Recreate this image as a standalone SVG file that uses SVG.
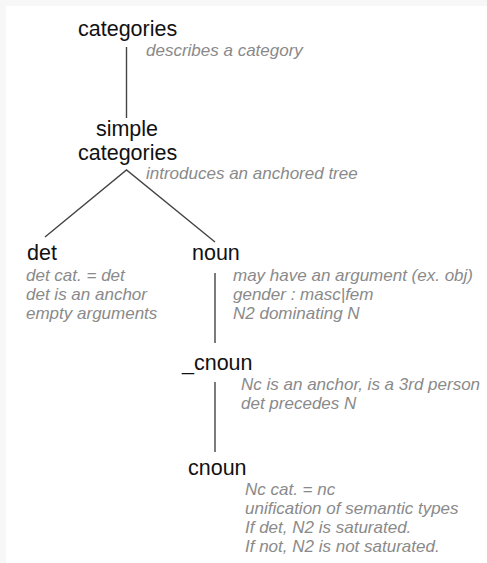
<svg xmlns="http://www.w3.org/2000/svg" width="487" height="563" viewBox="0 0 487 563">
  <style>
    .name { font-family: "Liberation Sans", Arial, sans-serif; font-size: 21.5px; fill: #111; }
    .note { font-family: "Liberation Sans", Arial, sans-serif; font-size: 17px; font-style: italic; fill: #8a8a8a; }
    .edge { stroke: #444; stroke-width: 1.4; fill: none; }
  </style>
  <rect x="0" y="0" width="487" height="563" fill="#f7f7f7"/>
  <rect x="6" y="6" width="481" height="557" fill="#ffffff"/>

  <g id="connectors">
    <line class="edge" x1="126.5" y1="47" x2="126.5" y2="118"/>
    <polyline class="edge" points="45,237 126.5,170 215,242"/>
    <line class="edge" x1="215" y1="273" x2="215" y2="343"/>
    <line class="edge" x1="215" y1="382" x2="215" y2="452"/>
  </g>

  <g id="categories">
    <text class="name" x="78" y="36">categories</text>
    <text class="note" x="146" y="56">describes a category</text>
  </g>

  <g id="simple-categories">
    <text class="name" x="127" y="136" text-anchor="middle">simple</text>
    <text class="name" x="78" y="160">categories</text>
    <text class="note" x="146" y="179">introduces an anchored tree</text>
  </g>

  <g id="det">
    <text class="name" x="27" y="260">det</text>
    <text class="note" x="26" y="281">det cat. = det</text>
    <text class="note" x="26" y="300">det is an anchor</text>
    <text class="note" x="26" y="319">empty arguments</text>
  </g>

  <g id="noun">
    <text class="name" x="192" y="260">noun</text>
    <text class="note" x="233" y="281">may have an argument (ex. obj)</text>
    <text class="note" x="233" y="300">gender : masc|fem</text>
    <text class="note" x="233" y="319">N2 dominating N</text>
  </g>

  <g id="_cnoun">
    <text class="name" x="182" y="370">_cnoun</text>
    <text class="note" x="241" y="390">Nc is an anchor, is a 3rd person</text>
    <text class="note" x="241" y="409">det precedes N</text>
  </g>

  <g id="cnoun">
    <text class="name" x="188" y="475">cnoun</text>
    <text class="note" x="245" y="495">Nc cat. = nc</text>
    <text class="note" x="245" y="514">unification of semantic types</text>
    <text class="note" x="245" y="533">If det, N2 is saturated.</text>
    <text class="note" x="245" y="552">If not, N2 is not saturated.</text>
  </g>
</svg>
